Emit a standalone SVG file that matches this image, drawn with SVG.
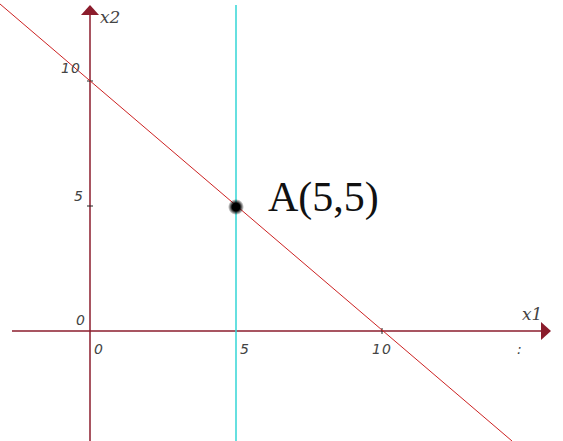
<svg xmlns="http://www.w3.org/2000/svg" width="563" height="441" viewBox="0 0 563 441">
<defs>
<style>
.ax{stroke:#8b1c2c;stroke-width:1.5;fill:none}
.lab{font-family:"DejaVu Sans",sans-serif;font-style:italic;font-size:14px;fill:#444;letter-spacing:1px}
.axl{font-family:"DejaVu Serif",serif;font-style:italic;font-size:17px;fill:#444}
</style>
<radialGradient id="dot"><stop offset="0" stop-color="#000"/><stop offset="0.5" stop-color="#000"/><stop offset="1" stop-color="#000" stop-opacity="0"/></radialGradient>
</defs>
<rect width="563" height="441" fill="#fff"/>
<g id="axes">
<line class="ax" x1="90" y1="14" x2="90" y2="441"/>
<polygon points="90,5 81,15 99,15" fill="#8b1c2c"/>
<line class="ax" x1="12" y1="331" x2="542" y2="331"/>
<polygon points="551,331 541,322 541,340" fill="#8b1c2c"/>
<line stroke="#222" stroke-width="1" x1="87" y1="81" x2="93" y2="81"/>
<line stroke="#222" stroke-width="1" x1="87" y1="206" x2="93" y2="206"/>
<line stroke="#222" stroke-width="1" x1="382" y1="328" x2="382" y2="334"/>
</g>
<g id="lines">
<line stroke="#cc2222" stroke-width="1" x1="0" y1="4" x2="512" y2="441"/>
<line stroke="#33d6d6" stroke-width="1.5" x1="236" y1="5" x2="236" y2="441"/>
</g>
<g id="pointA">
<circle cx="236" cy="207" r="8" fill="url(#dot)"/>
<text x="268" y="211" font-family="Liberation Serif,serif" font-size="42" fill="#111">A(5,5)</text>
</g>
<g id="labels">
<text class="axl" x="100" y="23">x2</text>
<text class="axl" x="522" y="320">x1</text>
<text class="lab" x="61" y="73">10</text>
<text class="lab" x="74" y="201">5</text>
<text class="lab" x="76" y="325">0</text>
<text class="lab" x="94" y="354">0</text>
<text class="lab" x="240" y="354">5</text>
<text class="lab" x="372" y="354">10</text>
<text class="lab" x="517" y="354">:</text>
</g>
</svg>
